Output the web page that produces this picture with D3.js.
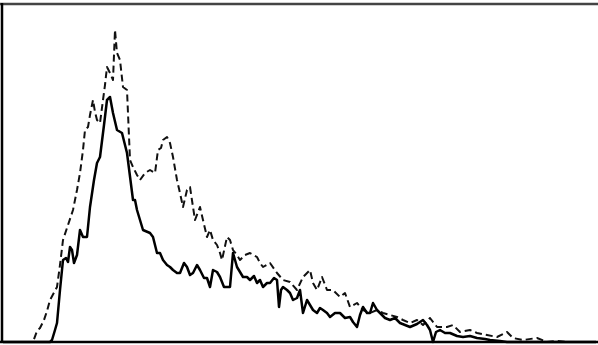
<!DOCTYPE html>
<html><head><meta charset="utf-8">
<script src="https://cdn.jsdelivr.net/npm/d3@7"></script>
<style>html,body{margin:0;padding:0;background:#fff;overflow:hidden}</style>
</head><body>
<svg id="chart" width="598" height="345"></svg>
<script>
// Solid series (channel, count)
const solidX = [1,48,50,53,55,58,61,64,66,68,70,72,75,78,81,85,88,92,95,98,102,105,108,111,115,120,125,131,133,135,138,141,148,151,155,158,161,165,168,171,175,178,182,185,188,191,195,198,202,205,208,211,215,218,222,228,231,233,235,238,241,245,248,252,255,258,261,265,268,272,275,277,279,281,285,288,291,295,298,301,305,308,311,315,318,321,325,328,333,338,343,348,351,355,358,361,365,368,371,375,378,383,388,393,398,403,408,415,421,425,428,431,434,438,443,448,455,461,468,475,483,488,498,505,594];
const solidY = [0,0,2,12,19,52,82,84,80,95,92,79,87,112,105,105,135,162,179,185,217,242,245,229,212,209,189,142,142,132,122,112,109,105,89,89,82,77,75,72,69,69,79,75,67,69,77,72,64,64,55,72,70,65,55,55,89,82,75,70,65,65,62,66,59,62,55,59,59,64,62,35,52,55,52,49,42,44,52,29,42,37,32,29,34,32,29,25,29,29,24,25,20,15,27,35,29,29,39,32,29,24,22,24,19,17,15,18,22,17,12,0,10,12,9,9,6,5,6,4,3,2,1,0,0];
// Dashed series (channel, count)
const dashedX = [1,31,35,38,42,45,48,55,58,61,66,71,75,78,81,83,86,88,91,93,95,98,101,103,105,108,111,113,115,118,121,125,128,131,135,138,143,148,153,156,159,161,165,168,171,175,178,181,185,188,191,193,198,201,205,208,211,215,218,220,225,228,231,235,238,243,248,255,258,261,268,275,281,288,295,301,308,311,315,320,325,331,338,343,348,355,361,368,375,381,388,395,401,408,415,421,428,435,445,451,458,468,475,485,495,505,511,521,535,545,555,565,573];
const dashedY = [0,0,11,14,22,31,42,55,77,102,117,132,152,169,192,212,215,227,242,230,222,219,242,257,275,269,262,312,289,282,255,252,182,175,167,162,169,172,169,192,194,202,205,199,185,162,149,135,152,155,135,122,135,122,105,112,102,97,89,82,105,102,92,87,82,87,89,85,79,75,79,69,62,60,52,65,72,59,52,65,52,52,45,49,35,39,32,29,32,29,27,25,22,19,22,17,24,15,15,17,10,12,9,7,5,10,4,2,4,0,1,0,0];

const W = 598, H = 345;
const svg = d3.select("#chart");
const x = d3.scaleLinear().domain([0, 596]).range([2, 598]);
const y = d3.scaleLinear().domain([0, 338]).range([342, 4]);

const solid = solidX.map((d, i) => [d, solidY[i]]);
const dashed = dashedX.map((d, i) => [d, dashedY[i]]);
const line = d3.line().x(d => x(d[0])).y(d => y(d[1])).curve(d3.curveLinear);

// frame: top (grey double), left and bottom (black)
svg.append("line").attr("x1", 0).attr("x2", W).attr("y1", y(338)).attr("y2", y(338))
  .attr("stroke", "#444").attr("stroke-width", 2.5);
svg.append("line").attr("x1", x(0)).attr("x2", x(0)).attr("y1", y(338) - 1).attr("y2", y(0) + 1)
  .attr("stroke", "#000").attr("stroke-width", 2.5);
svg.append("line").attr("x1", 0).attr("x2", W).attr("y1", y(0)).attr("y2", y(0))
  .attr("stroke", "#000").attr("stroke-width", 2.5);

svg.append("path").datum(dashed).attr("d", line)
  .attr("fill", "none").attr("stroke", "#111").attr("stroke-width", 2)
  .attr("stroke-dasharray", "7,4").attr("stroke-linejoin", "round");
svg.append("path").datum(solid).attr("d", line)
  .attr("fill", "none").attr("stroke", "#000").attr("stroke-width", 2.5)
  .attr("stroke-linejoin", "round");
</script>
</body></html>
